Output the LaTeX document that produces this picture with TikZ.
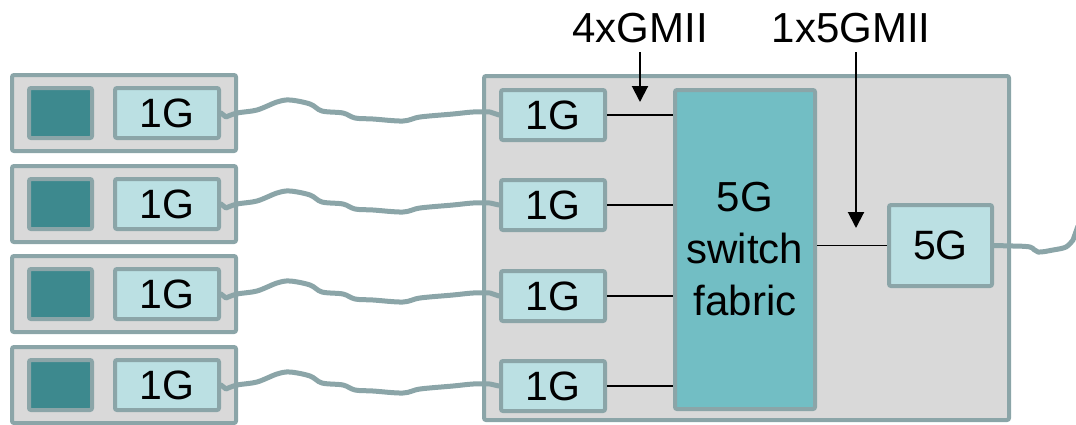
\documentclass[tikz,border=0pt]{standalone}
\usepackage{fontspec}
\setmainfont{Liberation Sans}
\usetikzlibrary{arrows.meta}
\definecolor{edgec}{HTML}{8BA5A8}
\definecolor{boxgray}{HTML}{D9D9D9}
\definecolor{darkteal}{HTML}{3D898E}
\definecolor{lightteal}{HTML}{BBE0E3}
\definecolor{fabteal}{HTML}{72BEC4}
\tikzset{
  outerbox/.style={draw=edgec, fill=boxgray, line width=4pt, rounded corners=2pt, minimum width=224pt, minimum height=76pt, inner sep=0pt},
  darksq/.style={draw=edgec, fill=darkteal, line width=4pt, rounded corners=2pt, minimum width=63pt, minimum height=50pt, inner sep=0pt},
  portbox/.style={draw=edgec, fill=lightteal, line width=4pt, rounded corners=2pt, minimum width=104pt, minimum height=50pt, inner sep=0pt, font=\fontsize{41}{46}\selectfont},
  bigbox/.style={draw=edgec, fill=boxgray, line width=4pt, rounded corners=2pt, minimum width=525pt, minimum height=344pt, inner sep=0pt},
  fabbox/.style={draw=edgec, fill=fabteal, line width=4pt, rounded corners=2pt, minimum width=140pt, minimum height=319pt, inner sep=0pt},
  cable/.style={draw=edgec, line width=5pt, line cap=round, line join=round},
  wire/.style={draw=black, line width=1.6pt},
  lab/.style={font=\fontsize{42}{47}\selectfont, inner sep=0pt},
  arr/.style={draw=black, line width=2pt, -{Triangle[width=16pt,length=16pt]}}
}
\begin{document}
\begin{tikzpicture}[x=1pt,y=-1pt]
\useasboundingbox (0,0) rectangle (1076,424);
% big switch box
\node[bigbox] (big) at (746.5,248) {};
\node[fabbox, align=center, font=\fontsize{42}{52}\selectfont] (fab) at (745,249.5) {5G\\switch\\fabric};
\node[portbox, minimum width=103pt, minimum height=81pt] (p5) at (940.5,245.5) {5G};
% rows
\foreach \i/\ly/\iy in {1/113/115, 2/204/205, 3/294/296, 4/385/386} {
  \node[outerbox] (o\i) at (124,\ly) {};
  \node[darksq] (d\i) at (60.5,\ly) {};
  \node[portbox] (l\i) at (167,\ly) {1G};
  \node[portbox] (i\i) at (553,\iy) {1G};
  \draw[wire] (i\i.east) -- (i\i.east -| fab.west);
  \begin{scope}[shift={(0,\ly)}]
    \draw[cable] (l\i.east) -- plot[smooth, tension=0.55] coordinates {(226,4) (237,0) (257,-3) (277,-11) (290,-13) (310,-9) (322,-2) (343,0) (355,5) (373,6) (403,8) (420,4) (453,1) (473,-1) (490,-1)} -- (i\i.west);
  \end{scope}
}
% fabric to 5G
\draw[wire] (fab.east |- p5.west) -- (p5.west);
% 5G outgoing cable
\coordinate (cend) at (1078,226);
\draw[cable] (p5.east) -- plot[smooth, tension=0.55] coordinates {(1013,246) (1030,247) (1038,252) (1053,250) (1066,247) (1073,240)} -- (cend);
% labels and arrows
\node[lab] (g4) at (640,28) {4xGMII};
\node[lab] (g5) at (851,28) {1x5GMII};
\coordinate (a4) at (640,102);
\coordinate (a5) at (856,228);
\draw[arr] (640,52) -- (a4);
\draw[arr] (856,52) -- (a5);
\end{tikzpicture}
\end{document}
